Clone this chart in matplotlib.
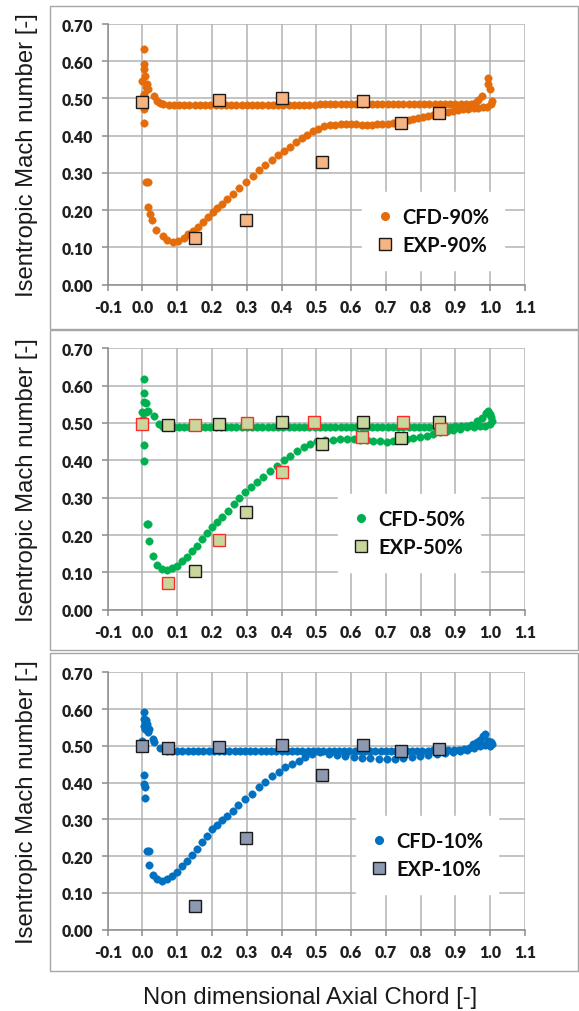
import matplotlib
matplotlib.use("Agg")
import matplotlib.pyplot as plt
from matplotlib.patches import Rectangle
from matplotlib.lines import Line2D
from matplotlib.font_manager import FontProperties

# ---------------- axis ticks ----------------
x_ticks = [-0.1, 0.0, 0.1, 0.2, 0.3, 0.4, 0.5, 0.6, 0.7, 0.8, 0.9, 1.0, 1.1]
x_tick_labels = ["-0.1", "0.0", "0.1", "0.2", "0.3", "0.4", "0.5", "0.6", "0.7", "0.8", "0.9", "1.0", "1.1"]
y_ticks = [0.0, 0.1, 0.2, 0.3, 0.4, 0.5, 0.6, 0.7]
y_tick_labels = ["0.00", "0.10", "0.20", "0.30", "0.40", "0.50", "0.60", "0.70"]

# ---------------- 90% span ----------------
cfd90_le_x = [0.004, 0.003, 0.003, 0.008, 0.0, 0.012, 0.017, 0.005, 0.010, 0.033, 0.041, 0.005, 0.005, -0.002]
cfd90_le_y = [0.634, 0.593, 0.579, 0.561, 0.548, 0.539, 0.525, 0.512, 0.530, 0.507, 0.494, 0.472, 0.433, 0.500]
cfd90_up_x = [0.050, 0.060, 0.075, 0.090, 0.105, 0.120, 0.135, 0.150, 0.165, 0.180, 0.195, 0.210,
              0.225, 0.240, 0.255, 0.270, 0.285, 0.300, 0.315, 0.330, 0.345, 0.360, 0.375, 0.390,
              0.405, 0.420, 0.435, 0.450, 0.465, 0.480, 0.495, 0.510, 0.525, 0.540, 0.555, 0.570,
              0.585, 0.600, 0.615, 0.630, 0.645, 0.660, 0.675, 0.690, 0.705, 0.720, 0.735, 0.750,
              0.765, 0.780, 0.795, 0.810, 0.825, 0.840, 0.855, 0.870, 0.885, 0.900, 0.915, 0.930,
              0.945, 0.955, 0.965, 0.975]
cfd90_up_y = [0.487, 0.484, 0.483, 0.483, 0.483, 0.483, 0.483, 0.483, 0.483, 0.483, 0.483, 0.483,
              0.483, 0.483, 0.483, 0.483, 0.483, 0.483, 0.483, 0.483, 0.483, 0.483, 0.483, 0.483,
              0.483, 0.483, 0.483, 0.483, 0.483, 0.483, 0.483, 0.484, 0.484, 0.484, 0.484, 0.484,
              0.484, 0.484, 0.484, 0.484, 0.484, 0.484, 0.484, 0.484, 0.484, 0.484, 0.484, 0.484,
              0.484, 0.484, 0.484, 0.484, 0.484, 0.484, 0.484, 0.484, 0.484, 0.484, 0.485, 0.485,
              0.486, 0.489, 0.496, 0.508]
cfd90_lo_x = [0.009, 0.015, 0.016, 0.021, 0.028, 0.040, 0.058, 0.071, 0.087, 0.103, 0.118, 0.132,
              0.146, 0.161, 0.175, 0.189, 0.204, 0.215, 0.228, 0.244, 0.261, 0.279, 0.298, 0.317,
              0.336, 0.353, 0.372, 0.389, 0.407, 0.425, 0.442, 0.458, 0.473, 0.490, 0.506, 0.522,
              0.539, 0.555, 0.570, 0.585, 0.600, 0.615, 0.630, 0.645, 0.660, 0.675, 0.690, 0.705,
              0.720, 0.735, 0.750, 0.765, 0.779, 0.793, 0.808, 0.822, 0.836, 0.850, 0.865, 0.880,
              0.894, 0.908, 0.923, 0.937, 0.952, 0.966, 0.980, 0.992]
cfd90_lo_y = [0.275, 0.275, 0.208, 0.190, 0.174, 0.147, 0.131, 0.120, 0.115, 0.118, 0.125, 0.136,
              0.143, 0.156, 0.168, 0.181, 0.194, 0.206, 0.217, 0.229, 0.244, 0.260, 0.277, 0.293,
              0.308, 0.321, 0.335, 0.348, 0.360, 0.371, 0.382, 0.393, 0.402, 0.412, 0.419, 0.426,
              0.428, 0.430, 0.431, 0.431, 0.431, 0.431, 0.430, 0.430, 0.430, 0.431, 0.431, 0.432,
              0.434, 0.435, 0.437, 0.441, 0.444, 0.447, 0.451, 0.454, 0.457, 0.459, 0.462, 0.464,
              0.466, 0.469, 0.471, 0.473, 0.475, 0.475, 0.476, 0.478]
cfd90_te_x = [0.993, 0.995, 1.000, 1.006, 1.003]
cfd90_te_y = [0.554, 0.540, 0.526, 0.494, 0.486]
exp90_x = [0.0, 0.22, 0.40, 0.635, 0.151, 0.297, 0.515, 0.744, 0.854]
exp90_y = [0.491, 0.497, 0.500, 0.494, 0.125, 0.175, 0.329, 0.433, 0.461]

# ---------------- 50% span ----------------
cfd50_le_x = [0.004, 0.003, 0.004, 0.010, -0.002, 0.017, 0.010, 0.033, 0.048, 0.004, 0.005, 0.002]
cfd50_le_y = [0.618, 0.580, 0.557, 0.553, 0.529, 0.533, 0.529, 0.519, 0.497, 0.442, 0.399, 0.510]
cfd50_up_x = [0.060, 0.075, 0.090, 0.105, 0.120, 0.135, 0.150, 0.165, 0.180, 0.195, 0.210,
              0.225, 0.240, 0.255, 0.270, 0.285, 0.300, 0.315, 0.330, 0.345, 0.360, 0.375, 0.390,
              0.405, 0.420, 0.435, 0.450, 0.465, 0.480, 0.495, 0.510, 0.525, 0.540, 0.555, 0.570,
              0.585, 0.600, 0.615, 0.630, 0.645, 0.660, 0.675, 0.690, 0.705, 0.720, 0.735, 0.750,
              0.765, 0.780, 0.795, 0.810, 0.825, 0.840, 0.855, 0.870, 0.885, 0.900, 0.915, 0.930,
              0.945, 0.961, 0.975, 0.988]
cfd50_up_y = [0.490, 0.488, 0.488, 0.488, 0.488, 0.488, 0.488, 0.488, 0.488, 0.488, 0.488,
              0.488, 0.488, 0.488, 0.488, 0.488, 0.488, 0.488, 0.488, 0.488, 0.488, 0.488, 0.488,
              0.488, 0.488, 0.488, 0.488, 0.489, 0.489, 0.489, 0.489, 0.489, 0.489, 0.489, 0.489,
              0.489, 0.489, 0.489, 0.489, 0.489, 0.489, 0.489, 0.490, 0.490, 0.490, 0.490, 0.490,
              0.490, 0.490, 0.490, 0.490, 0.490, 0.490, 0.490, 0.490, 0.490, 0.491, 0.491, 0.492,
              0.494, 0.505, 0.513, 0.528]
cfd50_lo_x = [0.012, 0.016, 0.018, 0.030, 0.041, 0.056, 0.070, 0.084, 0.099, 0.113, 0.128, 0.142,
              0.156, 0.171, 0.185, 0.200, 0.214, 0.228, 0.246, 0.262, 0.279, 0.296, 0.313, 0.329,
              0.348, 0.367, 0.386, 0.406, 0.425, 0.444, 0.464, 0.483, 0.502, 0.526, 0.549, 0.568,
              0.588, 0.607, 0.626, 0.645, 0.664, 0.683, 0.702, 0.721, 0.741, 0.760, 0.779, 0.798,
              0.817, 0.836, 0.856, 0.875, 0.894, 0.913, 0.932, 0.952, 0.971, 0.985]
cfd50_lo_y = [0.230, 0.229, 0.183, 0.145, 0.121, 0.109, 0.106, 0.111, 0.118, 0.130, 0.142, 0.158,
              0.171, 0.189, 0.205, 0.221, 0.234, 0.247, 0.265, 0.283, 0.299, 0.314, 0.328, 0.341,
              0.356, 0.371, 0.386, 0.401, 0.412, 0.424, 0.435, 0.444, 0.451, 0.455, 0.455, 0.456,
              0.457, 0.456, 0.455, 0.454, 0.453, 0.451, 0.450, 0.452, 0.455, 0.458, 0.461, 0.463,
              0.466, 0.470, 0.475, 0.478, 0.482, 0.485, 0.488, 0.490, 0.491, 0.493]
cfd50_te_x = [0.995, 0.998, 1.003, 1.005, 1.000]
cfd50_te_y = [0.533, 0.524, 0.515, 0.506, 0.497]
exp50_x = [0.074, 0.22, 0.40, 0.635, 0.854, 0.151, 0.297, 0.515, 0.744]
exp50_y = [0.495, 0.497, 0.503, 0.503, 0.502, 0.104, 0.262, 0.444, 0.459]
exp50b_x = [0.0, 0.151, 0.30, 0.494, 0.75, 0.074, 0.221, 0.40, 0.631, 0.859]
exp50b_y = [0.497, 0.495, 0.500, 0.503, 0.503, 0.071, 0.187, 0.368, 0.463, 0.484]

# ---------------- 10% span ----------------
cfd10_le_x = [0.004, 0.005, 0.003, 0.012, 0.017, 0.008, 0.030, 0.033, -0.002, 0.050, 0.004, 0.004,
              0.008, 0.008, 0.006, 0.010, 0.014, 0.020]
cfd10_le_y = [0.593, 0.573, 0.555, 0.560, 0.537, 0.546, 0.519, 0.510, 0.514, 0.493, 0.421, 0.396,
              0.387, 0.357, 0.565, 0.570, 0.552, 0.545]
cfd10_up_x = [0.070, 0.085, 0.100, 0.115, 0.130, 0.145, 0.160, 0.175, 0.190, 0.205, 0.220,
              0.235, 0.250, 0.265, 0.280, 0.295, 0.310, 0.325, 0.340, 0.355, 0.370, 0.385, 0.400,
              0.415, 0.430, 0.445, 0.460, 0.475, 0.490, 0.505, 0.520, 0.535, 0.550, 0.565, 0.580,
              0.595, 0.610, 0.625, 0.640, 0.655, 0.670, 0.685, 0.700, 0.715, 0.730, 0.745, 0.760,
              0.775, 0.790, 0.805, 0.820, 0.835, 0.850, 0.865, 0.880, 0.895, 0.910, 0.925, 0.940,
              0.951, 0.962, 0.971, 0.980, 0.986]
cfd10_up_y = [0.487, 0.487, 0.487, 0.487, 0.487, 0.487, 0.487, 0.487, 0.487, 0.487, 0.487,
              0.487, 0.487, 0.487, 0.487, 0.487, 0.487, 0.487, 0.487, 0.487, 0.487, 0.487, 0.487,
              0.487, 0.487, 0.487, 0.487, 0.487, 0.487, 0.487, 0.487, 0.487, 0.487, 0.487, 0.487,
              0.487, 0.487, 0.487, 0.487, 0.487, 0.487, 0.487, 0.487, 0.487, 0.487, 0.487, 0.487,
              0.487, 0.487, 0.487, 0.487, 0.488, 0.488, 0.488, 0.489, 0.489, 0.490, 0.492, 0.495,
              0.505, 0.511, 0.517, 0.526, 0.532]
cfd10_lo_x = [0.014, 0.018, 0.020, 0.030, 0.041, 0.056, 0.070, 0.084, 0.099, 0.113, 0.128, 0.142,
              0.156, 0.171, 0.185, 0.200, 0.214, 0.228, 0.243, 0.259, 0.276, 0.296, 0.315, 0.334,
              0.353, 0.372, 0.392, 0.411, 0.430, 0.449, 0.468, 0.487, 0.511, 0.535, 0.559, 0.583,
              0.607, 0.631, 0.655, 0.679, 0.702, 0.726, 0.750, 0.774, 0.798, 0.822, 0.846, 0.870,
              0.894, 0.913, 0.932, 0.952, 0.971, 0.985]
cfd10_lo_y = [0.215, 0.215, 0.176, 0.149, 0.138, 0.133, 0.138, 0.147, 0.158, 0.172, 0.188, 0.203,
              0.220, 0.238, 0.256, 0.274, 0.285, 0.297, 0.310, 0.324, 0.339, 0.356, 0.369, 0.387,
              0.403, 0.417, 0.430, 0.442, 0.451, 0.460, 0.469, 0.478, 0.483, 0.479, 0.475, 0.472,
              0.469, 0.467, 0.466, 0.465, 0.464, 0.465, 0.466, 0.469, 0.472, 0.475, 0.478, 0.480,
              0.483, 0.486, 0.490, 0.494, 0.499, 0.502]
cfd10_te_x = [0.995, 1.003, 1.005, 0.998]
cfd10_te_y = [0.512, 0.510, 0.505, 0.500]
exp10_x = [0.0, 0.074, 0.22, 0.40, 0.635, 0.744, 0.854, 0.297, 0.151, 0.515]
exp10_y = [0.500, 0.494, 0.496, 0.502, 0.502, 0.487, 0.492, 0.249, 0.064, 0.421]

# ---------------- styling ----------------
ORANGE = "#e46c0a"
GREEN = "#00b050"
BLUE = "#0070c0"
GRID = "#b3b3b3"
TICKTXT = "#1f1f1f"

plt.rcParams["font.family"] = ["Lato", "DejaVu Sans"]
title_font = FontProperties(family="Liberation Sans", size=17.2)
tick_font = FontProperties(family="Lato", weight="heavy", size=11.3)
legend_font = FontProperties(family="Lato", weight="bold", size=14.5)

fig = plt.figure(figsize=(5.79, 10.12), dpi=100)

# panel frames (chart areas)
for (y0, y1) in [(7, 330), (331, 651), (654, 972)]:
    fig.patches.append(Rectangle((50 / 579, 1 - y1 / 1012), (578 - 50) / 579, (y1 - y0) / 1012,
                                 transform=fig.transFigure, fill=False,
                                 edgecolor="#a6a6a6", linewidth=1.0))

left = 107.7 / 579
width = 417.3 / 579
axes_boxes = [
    (1 - 285.7 / 1012, 260.7 / 1012),
    (1 - 610.7 / 1012, 261.4 / 1012),
    (1 - 930.7 / 1012, 257.4 / 1012),
]

panels = [
    dict(color=ORANGE, sq="#f5b482",
         groups=[(cfd90_le_x, cfd90_le_y), (cfd90_up_x, cfd90_up_y),
                 (cfd90_lo_x, cfd90_lo_y), (cfd90_te_x, cfd90_te_y)],
         exp=[(exp90_x, exp90_y, "#1a1a1a")], labels=("CFD-90%", "EXP-90%"),
         leg=(433 / 579, 1 - 232 / 1012)),
    dict(color=GREEN, sq="#c9d79c",
         groups=[(cfd50_le_x, cfd50_le_y), (cfd50_up_x, cfd50_up_y),
                 (cfd50_lo_x, cfd50_lo_y), (cfd50_te_x, cfd50_te_y)],
         exp=[(exp50_x, exp50_y, "#1a1a1a"), (exp50b_x, exp50b_y, "#ff2a2a")],
         labels=("CFD-50%", "EXP-50%"),
         leg=(409 / 579, 1 - 534 / 1012)),
    dict(color=BLUE, sq="#8d99b0",
         groups=[(cfd10_le_x, cfd10_le_y), (cfd10_up_x, cfd10_up_y),
                 (cfd10_lo_x, cfd10_lo_y), (cfd10_te_x, cfd10_te_y)],
         exp=[(exp10_x, exp10_y, "#1a1a1a")], labels=("CFD-10%", "EXP-10%"),
         leg=(427 / 579, 1 - 856 / 1012)),
]

for (bottom, height), p in zip(axes_boxes, panels):
    ax = fig.add_axes([left, bottom, width, height])
    ax.set_xlim(-0.1, 1.1)
    ax.set_ylim(0.0, 0.7)
    ax.set_xticks(x_ticks)
    ax.set_xticklabels(x_tick_labels)
    ax.set_yticks(y_ticks)
    ax.set_yticklabels(y_tick_labels)
    ax.grid(True, color=GRID, linewidth=1.1)
    ax.set_axisbelow(True)
    for s in ("top", "right"):
        ax.spines[s].set_visible(False)
    for s in ("left", "bottom"):
        ax.spines[s].set_color("#8c8c8c")
        ax.spines[s].set_linewidth(1.1)
    ax.tick_params(axis="both", direction="out", length=4.5, width=1.1, color="#8c8c8c",
                   labelcolor=TICKTXT, pad=6)
    for lab in ax.get_xticklabels() + ax.get_yticklabels():
        lab.set_fontproperties(tick_font)

    for gx, gy in p["groups"]:
        ax.plot(gx, gy, linestyle="none", marker="o", markersize=5.4,
                markerfacecolor=p["color"], markeredgecolor=p["color"],
                markeredgewidth=0.3, zorder=3, clip_on=False)
    for ex, ey, ec in p["exp"]:
        ax.plot(ex, ey, linestyle="none", marker="s", markersize=8.4,
                markerfacecolor=p["sq"], markeredgecolor=ec, markeredgewidth=1.0,
                zorder=4, clip_on=False)

    ax.set_ylabel("Isentropic Mach number [-]", fontproperties=title_font, color="#1a1a1a")
    ax.yaxis.set_label_coords(-0.166, 0.5)

    handles = [
        Line2D([], [], linestyle="none", marker="o", markersize=5.5,
               markerfacecolor=p["color"], markeredgecolor=p["color"]),
        Line2D([], [], linestyle="none", marker="s", markersize=8.5,
               markerfacecolor=p["sq"], markeredgecolor="#1a1a1a", markeredgewidth=1.0),
    ]
    leg = fig.legend(handles, list(p["labels"]), loc="center", bbox_to_anchor=p["leg"],
                     bbox_transform=fig.transFigure, frameon=True, fancybox=False,
                     framealpha=1.0, edgecolor="white", facecolor="white",
                     prop=legend_font,
                     handlelength=0.8, handletextpad=0.45, labelspacing=0.4,
                     borderpad=0.75, borderaxespad=0.0)
    for t in leg.get_texts():
        t.set_color("#0d0d0d")

fig.text(310 / 579, 1 - 998 / 1012, "Non dimensional Axial Chord [-]",
         fontproperties=title_font, color="#1a1a1a", ha="center", va="center")

fig.savefig("out.png", dpi=100, facecolor="white")
